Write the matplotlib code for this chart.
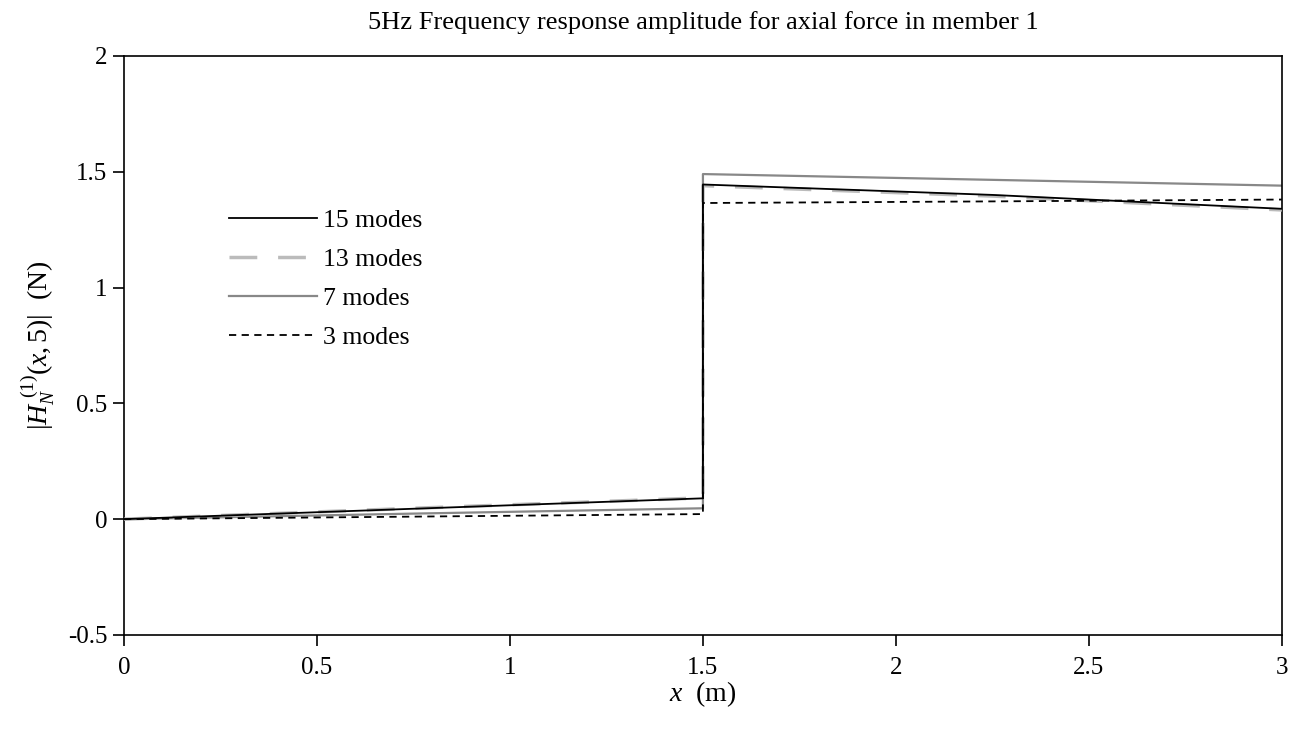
import matplotlib
matplotlib.use("Agg")
import matplotlib.pyplot as plt

plt.rcParams['font.family'] = ['Liberation Serif', 'DejaVu Serif']
plt.rcParams['mathtext.fontset'] = 'custom'
plt.rcParams['mathtext.rm'] = 'Liberation Serif'
plt.rcParams['mathtext.it'] = 'Liberation Serif:italic'

# x positions (m) of each segment: left member and right member
x_left = [0.0, 0.75, 1.5]
x_right = [1.5, 2.25, 3.0]

modes15_left = [0.0, 0.045, 0.09]
modes15_right = [1.445, 1.40, 1.34]
modes13_left = [0.0, 0.047, 0.092]
modes13_right = [1.44, 1.395, 1.335]
modes7_left = [0.0, 0.024, 0.047]
modes7_right = [1.49, 1.465, 1.44]
modes3_left = [0.0, 0.011, 0.022]
modes3_right = [1.365, 1.372, 1.38]

labels = ['15 modes', '13 modes', '7 modes', '3 modes']

fig = plt.figure(figsize=(13.01, 7.38), dpi=100)
ax = fig.add_axes([0.0953, 0.1396, 0.890, 0.7846])

def series(left, right):
    xs = x_left + x_right
    ys = left + right
    return xs, ys

styles = [
    dict(color='#bbbbbb', lw=2.5, ls=(0, (8, 6))),
    dict(color='#888888', lw=1.6, ls='-'),
    dict(color='black', lw=1.3, ls=(0, (4, 3))),
    dict(color='black', lw=1.3, ls='-'),
]

data = [(modes15_left, modes15_right), (modes13_left, modes13_right),
        (modes7_left, modes7_right), (modes3_left, modes3_right)]
style_map = {0: styles[3], 1: styles[0], 2: styles[1], 3: styles[2]}
zorders = {0: 4, 1: 3, 2: 2, 3: 5}
handles = []
for i, (l, r) in enumerate(data):
    xs, ys = series(l, r)
    h, = ax.plot(xs, ys, label=labels[i], zorder=zorders[i], **style_map[i])
    handles.append(h)

ax.set_xlim(0, 3)
ax.set_ylim(-0.5, 2)
ax.set_xticks([0, 0.5, 1, 1.5, 2, 2.5, 3])
ax.set_xticklabels(['0', '0.5', '1', '1.5', '2', '2.5', '3'])
ax.set_yticks([-0.5, 0, 0.5, 1, 1.5, 2])
ax.set_yticklabels(['-0.5', '0', '0.5', '1', '1.5', '2'])
ax.tick_params(direction='out', length=8, width=1.2, labelsize=18,
               top=False, right=False)
ax.tick_params(axis='x', pad=8)
ax.tick_params(axis='y', pad=4)
for s in ax.spines.values():
    s.set_linewidth(1.2)

fig.text(703 / 1301, 1 - 23 / 738,
         '5Hz Frequency response amplitude for axial force in member 1',
         fontsize=19, ha='center', va='center')
ax.set_xlabel(r'$x$  (m)', fontsize=20, labelpad=0)
ax.set_ylabel(r'$|H_N^{\ (1)}(x,5)|$  (N)', fontsize=20, labelpad=8)

leg = ax.legend(handles=handles, loc='upper left', bbox_to_anchor=(0.082, 0.753),
                frameon=False, fontsize=18.5, handlelength=3.4, handletextpad=0.25,
                labelspacing=0.62, borderaxespad=0)

fig.savefig('out.png', dpi=100)
